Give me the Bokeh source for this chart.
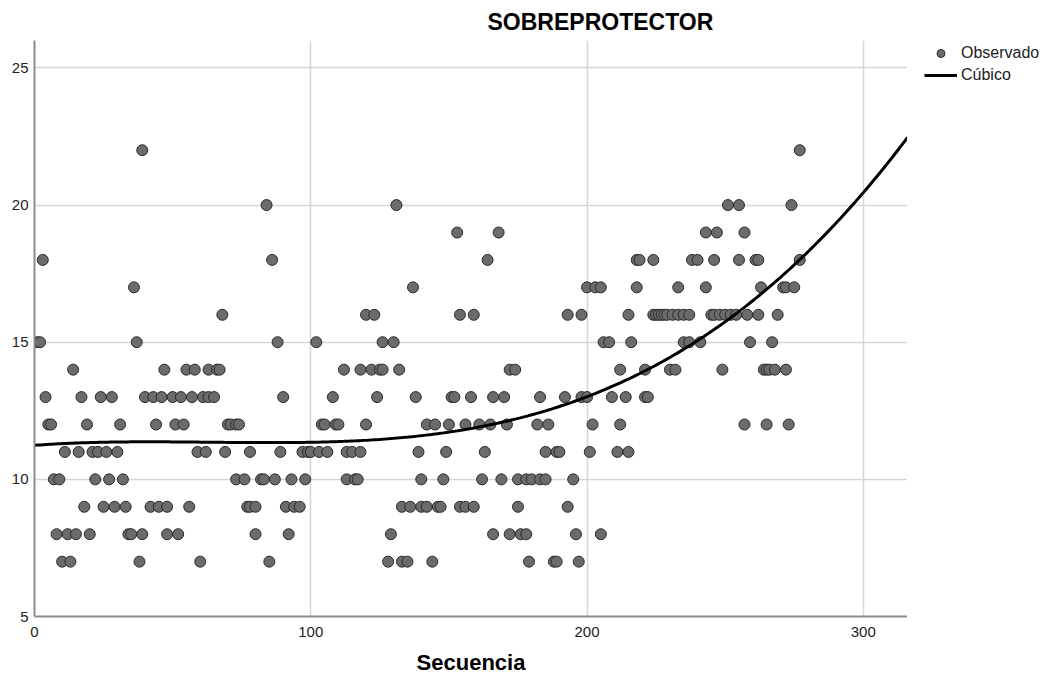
import numpy as np
from bokeh.plotting import figure
from bokeh.layouts import row
from bokeh.models import Range1d, FixedTicker, Legend, LegendItem, Title, ColumnDataSource
from bokeh.embed import file_html
from bokeh.resources import INLINE

# Sequence numbers (Secuencia) of the observed points, grouped by their value
seq_val_22 = [39, 277]
seq_val_20 = [84, 131, 251, 255, 274]
seq_val_19 = [153, 168, 243, 247, 257]
seq_val_18 = [3, 86, 164, 218, 219, 224, 238, 240, 246, 255, 261, 262, 277]
seq_val_17 = [36, 137, 200, 203, 205, 218, 233, 243, 263, 271, 272, 275]
seq_val_16 = [68, 120, 123, 154, 159, 193, 198, 215, 224, 225, 226, 227, 228, 229,
              231, 233, 235, 237, 245, 246, 248, 250, 252, 254, 258, 262, 269]
seq_val_15 = [1, 2, 37, 88, 102, 126, 130, 206, 208, 216, 235, 237, 241, 259, 267]
seq_val_14 = [14, 47, 55, 58, 63, 66, 67, 112, 118, 122, 125, 126, 132, 172, 174,
              212, 221, 230, 232, 249, 264, 265, 266, 268, 272]
seq_val_13 = [4, 17, 24, 28, 40, 43, 46, 50, 53, 57, 61, 63, 65, 90, 108, 124, 138,
              151, 152, 158, 166, 170, 183, 192, 198, 200, 209, 214, 221, 222]
seq_val_12 = [5, 6, 19, 31, 44, 51, 54, 70, 71, 73, 74, 104, 105, 109, 110, 120, 142,
              145, 150, 156, 161, 165, 171, 182, 186, 202, 212, 257, 265, 273]
seq_val_11 = [11, 16, 21, 23, 26, 30, 59, 62, 69, 78, 89, 97, 99, 100, 103, 106, 113,
              115, 118, 139, 149, 163, 185, 189, 190, 201, 211, 215]
seq_val_10 = [7, 9, 22, 27, 32, 73, 76, 82, 83, 87, 93, 98, 113, 116, 117, 140, 148,
              162, 169, 175, 178, 180, 183, 185, 195]
seq_val_9 = [18, 25, 29, 33, 42, 45, 48, 56, 77, 78, 80, 91, 94, 96, 133, 136, 140,
             142, 146, 147, 154, 156, 159, 175, 193]
seq_val_8 = [8, 12, 15, 20, 34, 35, 39, 48, 52, 80, 92, 129, 166, 172, 176, 178, 196, 205]
seq_val_7 = [10, 13, 38, 60, 85, 128, 133, 135, 144, 179, 188, 189, 197]

groups = [(22, seq_val_22), (20, seq_val_20), (19, seq_val_19), (18, seq_val_18),
          (17, seq_val_17), (16, seq_val_16), (15, seq_val_15), (14, seq_val_14),
          (13, seq_val_13), (12, seq_val_12), (11, seq_val_11), (10, seq_val_10),
          (9, seq_val_9), (8, seq_val_8), (7, seq_val_7)]

x_ticks = [0, 100, 200, 300]
y_ticks = [5, 10, 15, 20, 25]

xs, ys = [], []
for v, seqs in groups:
    for s in seqs:
        xs.append(s)
        ys.append(v)
order = np.argsort(xs)
xs = np.array(xs, dtype=float)[order]
ys = np.array(ys, dtype=float)[order]

# cubic fit estimated from the observations (the "Cúbico" model)
coef = np.polyfit(xs, ys, 3)
fx = np.linspace(0, 316, 300)
fy = np.polyval(coef, fx)

FONT = "Liberation Sans"
PT_FILL, PT_LINE = "#6b6b6b", "#2a2a2a"

p = figure(width=907, height=678, output_backend="svg", toolbar_location=None,
           x_range=Range1d(0, 316), y_range=Range1d(5, 26),
           min_border_left=34, min_border_right=0, min_border_top=40,
           min_border_bottom=62)
p.outline_line_color = None
p.background_fill_color = "white"
p.border_fill_color = "white"

p.add_layout(Title(text="SOBREPROTECTOR", text_font=FONT, text_font_size="23px",
                   text_font_style="bold", text_color="#000000", align="left",
                   offset=453, standoff=12), "above")

src = ColumnDataSource(dict(x=xs, y=ys))
p.scatter("x", "y", source=src, size=11, fill_color=PT_FILL,
          line_color=PT_LINE, line_width=1)
p.line(fx, fy, line_color="#000000", line_width=3)

p.xaxis.ticker = FixedTicker(ticks=x_ticks)
p.yaxis.ticker = FixedTicker(ticks=y_ticks)
for ax in (p.xaxis[0], p.yaxis[0]):
    ax.major_tick_in = 0
    ax.major_tick_out = 0
    ax.minor_tick_in = 0
    ax.minor_tick_out = 0
    ax.axis_line_color = "#8c8c8c"
    ax.axis_line_width = 2
    ax.major_label_text_font = FONT
    ax.major_label_text_font_size = "15px"
    ax.major_label_text_color = "#222222"
p.xaxis.major_label_standoff = 10
p.yaxis.major_label_standoff = 6
p.xaxis.axis_label = "Secuencia"
p.xaxis.axis_label_text_font = FONT
p.xaxis.axis_label_text_font_size = "22px"
p.xaxis.axis_label_text_font_style = "bold"
p.xaxis.axis_label_text_color = "#000000"
p.xaxis.axis_label_standoff = 10

p.xgrid.ticker = FixedTicker(ticks=x_ticks)
p.ygrid.ticker = FixedTicker(ticks=y_ticks)
p.grid.grid_line_color = "#d6d6d6"
p.grid.grid_line_width = 1.5

# legend panel to the right of the chart; its sample glyphs sit outside its
# (invisible) ranges so that only the legend entries show
q = figure(width=137, height=678, output_backend="svg", toolbar_location=None,
           x_range=Range1d(0, 1), y_range=Range1d(0, 1),
           x_axis_type=None, y_axis_type=None,
           min_border_left=0, min_border_right=0, min_border_top=0, min_border_bottom=0)
q.outline_line_color = None
q.grid.visible = False
q.background_fill_color = "white"
q.border_fill_color = "white"
leg_pts = q.scatter(x=[50], y=[50], size=11, fill_color=PT_FILL, line_color=PT_LINE,
                    line_width=1)
leg_crv = q.line(x=[50, 60], y=[50, 60], line_color="#000000", line_width=3)

legend = Legend(items=[LegendItem(label="Observado", renderers=[leg_pts]),
                       LegendItem(label="Cúbico", renderers=[leg_crv])],
                location=(17, 531), padding=2, margin=0, spacing=2,
                glyph_width=33, glyph_height=20, label_height=20,
                label_standoff=4, label_text_font=FONT,
                label_text_font_size="16px", label_text_color="#222222",
                border_line_color=None, background_fill_alpha=0)
q.add_layout(legend, "center")

layout = row(p, q)
open("out.html", "w").write(file_html(layout, INLINE))
